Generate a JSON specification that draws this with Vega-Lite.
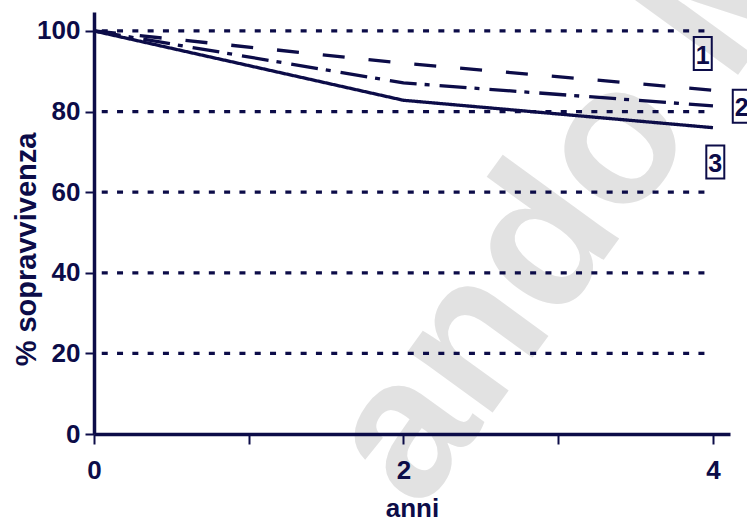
{
  "$schema": "https://vega.github.io/schema/vega-lite/v6.json",
  "width": 636,
  "height": 422,
  "autosize": {"type": "none"},
  "padding": {"left": 94, "top": 12, "right": 17, "bottom": 93},
  "background": "white",
  "config": {"view": {"stroke": null}, "font": "Liberation Sans"},
  "datasets": {
    "survival": [
      {"serie": "1", "x": 0, "y": 100},
      {"serie": "1", "x": 2, "y": 92.0},
      {"serie": "1", "x": 4, "y": 85.3},
      {"serie": "2", "x": 0, "y": 100},
      {"serie": "2", "x": 2, "y": 87.1},
      {"serie": "2", "x": 4, "y": 81.4},
      {"serie": "3", "x": 0, "y": 100},
      {"serie": "3", "x": 2, "y": 82.8},
      {"serie": "3", "x": 4, "y": 76.0}
    ],
    "grid": [{"y": 20}, {"y": 40}, {"y": 60}, {"y": 80}, {"y": 100}],
    "labels": [
      {"label": "1", "x": 3.934, "y": 94.4},
      {"label": "2", "x": 4.186, "y": 81.3},
      {"label": "3", "x": 4.015, "y": 67.5}
    ],
    "watermark": [{"text": "ando M", "x": 3.422, "y": 50.0}]
  },
  "layer": [
    {
      "data": {"name": "watermark"},
      "mark": {"type": "text", "angle": -54, "fontSize": 198, "fontWeight": "bold", "color": "#e2e2e2", "align": "center", "baseline": "alphabetic"},
      "encoding": {
        "x": {"field": "x", "type": "quantitative", "scale": {"domain": [0, 4.11], "nice": false, "zero": false}},
        "y": {"field": "y", "type": "quantitative", "scale": {"domain": [0, 104.7], "nice": false}},
        "text": {"field": "text"}
      }
    },
    {
      "data": {"name": "grid"},
      "mark": {"type": "rule", "color": "#0c0c48", "strokeWidth": 3.3, "strokeDash": [6, 9.3]},
      "encoding": {
        "y": {"field": "y", "type": "quantitative", "scale": {"domain": [0, 104.7], "nice": false}},
        "x": {"datum": 0.05, "type": "quantitative", "scale": {"domain": [0, 4.11], "nice": false, "zero": false}},
        "x2": {"datum": 3.97}
      }
    },
    {
      "data": {"name": "survival"},
      "mark": {"type": "line", "color": "#0c0c48", "strokeWidth": 3.3},
      "encoding": {
        "x": {
          "field": "x",
          "type": "quantitative",
          "scale": {"domain": [0, 4.11], "nice": false, "zero": false},
          "axis": {
            "values": [0, 1, 2, 3, 4],
            "format": "d",
            "labelExpr": "datum.value % 2 == 0 ? datum.label : ''",
            "title": "anni",
            "titleFontSize": 26,
            "titleFontWeight": "bold",
            "titleColor": "#0c0c48",
            "titlePadding": 12,
            "labelFontSize": 26,
            "labelFontWeight": "bold",
            "labelColor": "#0c0c48",
            "labelPadding": 13,
            "labelFlush": false,
            "labelOverlap": false,
            "tickSize": 10,
            "tickWidth": 2,
            "tickColor": "#0c0c48",
            "domainColor": "#0c0c48",
            "domainWidth": 3.5,
            "grid": false,
            "zindex": 1
          }
        },
        "y": {
          "field": "y",
          "type": "quantitative",
          "scale": {"domain": [0, 104.7], "nice": false},
          "axis": {
            "values": [0, 20, 40, 60, 80, 100],
            "format": "d",
            "title": "%  sopravvivenza",
            "titleFontSize": 29,
            "titleFontWeight": "bold",
            "titleColor": "#0c0c48",
            "titleAngle": -90,
            "titleAlign": "center",
            "titleBaseline": "alphabetic",
            "titleX": -59,
            "titleY": 237,
            "labelFontSize": 26,
            "labelFontWeight": "bold",
            "labelColor": "#0c0c48",
            "labelPadding": 5,
            "tickSize": 9,
            "tickWidth": 2,
            "tickColor": "#0c0c48",
            "domainColor": "#0c0c48",
            "domainWidth": 3.5,
            "grid": false,
            "zindex": 1
          }
        },
        "detail": {"field": "serie"},
        "strokeDash": {
          "field": "serie",
          "type": "nominal",
          "scale": {"domain": ["1", "2", "3"], "range": [[22, 24], [27, 8, 5, 10], [1, 0]]},
          "legend": null
        }
      }
    },
    {
      "data": {"name": "labels"},
      "mark": {"type": "point", "shape": "M-0.545,-1H0.545V1H-0.545Z", "size": 1089, "filled": false, "stroke": "#0c0c48", "strokeWidth": 2, "opacity": 1},
      "encoding": {
        "x": {"field": "x", "type": "quantitative", "scale": {"domain": [0, 4.11], "nice": false, "zero": false}},
        "y": {"field": "y", "type": "quantitative", "scale": {"domain": [0, 104.7], "nice": false}}
      }
    },
    {
      "data": {"name": "labels"},
      "mark": {"type": "text", "fontSize": 25, "fontWeight": "bold", "color": "#0c0c48", "align": "center", "baseline": "middle", "dy": 2},
      "encoding": {
        "x": {"field": "x", "type": "quantitative", "scale": {"domain": [0, 4.11], "nice": false, "zero": false}},
        "y": {"field": "y", "type": "quantitative", "scale": {"domain": [0, 104.7], "nice": false}},
        "text": {"field": "label"}
      }
    }
  ]
}
